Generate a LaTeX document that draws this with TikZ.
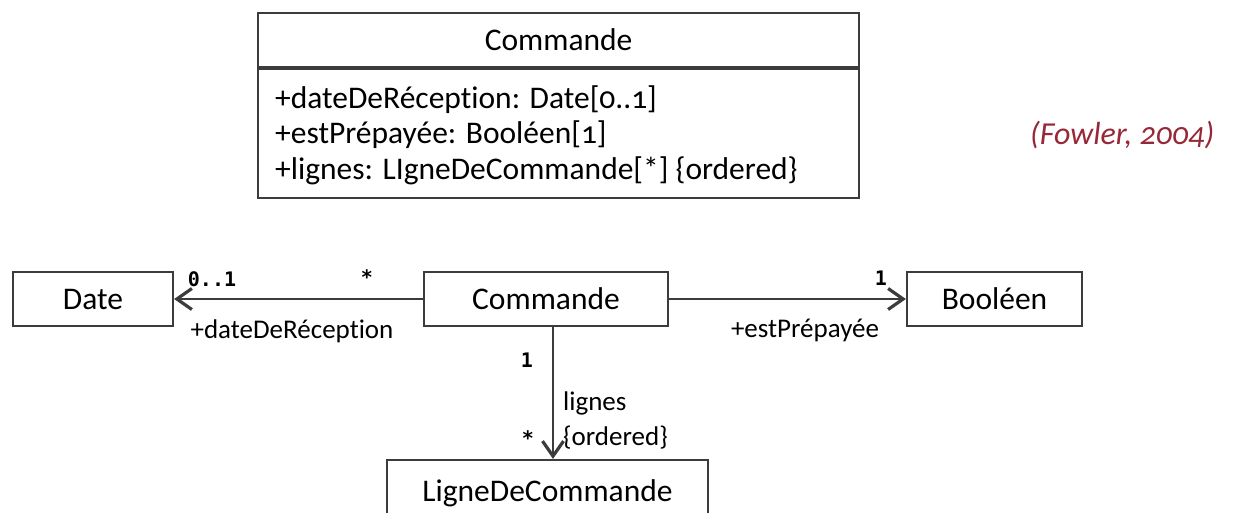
\documentclass[tikz,border=0pt]{standalone}
\usepackage{fontspec}
\setmainfont{Carlito}[Numbers=OldStyle,Ligatures=CommonOff]
\newfontfamily\multfont{DejaVu Sans Mono}
\usetikzlibrary{arrows.meta,calc}

\definecolor{umlline}{RGB}{60,60,60}
\definecolor{citered}{RGB}{150,40,55}

\begin{document}
\begin{tikzpicture}[x=1pt,y=-1pt,
  classbox/.style={draw=umlline,line width=2.2pt,inner sep=0pt,text height=20pt,text depth=0pt,font=\fontsize{31.5}{36}\selectfont},
  assoc/.style={draw=umlline,line width=2.2pt,-{Straight Barb[length=15pt,width=21pt,line width=3.2pt]}},
  rolename/.style={inner sep=0pt,anchor=base,font=\fontsize{27}{32}\selectfont},
  multi/.style={inner sep=0pt,anchor=base,font=\multfont\bfseries\fontsize{20}{24}\selectfont}]

\useasboundingbox (0,0) rectangle (1234,512);

% the class with its attributes
\node[classbox,anchor=north west,minimum width=601pt,minimum height=54pt] (cmdHead) at (257,12) {Commande};
\node[classbox,anchor=north,minimum width=601pt,minimum height=129pt] (cmdBody) at (cmdHead.south) {};

\def\attribs{
{+dateDeRéception: Date[0..1]},
{+estPrépayée: Booléen[1]},
{+lignes: LIgneDeCommande[*] \{ordered\}}
 }
\foreach \a [count=\ni] in \attribs
  \node[inner sep=0pt,anchor=base west,font=\fontsize{31.5}{36}\selectfont] (attr\ni) at (275,{72.5+35.5*\ni}) {\a};

\node[anchor=base west,inner sep=0pt,text=citered,font=\itshape\fontsize{32}{38}\selectfont] (cite) at (1030,144) {(Fowler, 2004)};

% the same class drawn with associations
\node[classbox,minimum width=160pt,minimum height=54pt] (date) at (93,299) {Date};
\node[classbox,minimum width=244pt,minimum height=54pt] (cmd) at (546,299) {Commande};
\node[classbox,minimum width=175pt,minimum height=54pt] (bool) at (994.5,299) {Booléen};
\node[classbox,minimum width=321pt,minimum height=62pt] (ligne) at (547.5,491) {LigneDeCommande};

\draw[assoc] (cmd.west) -- (date.east);
\draw[assoc] (cmd.east) -- (bool.west);
\draw[assoc] ([xshift=7pt]cmd.south) -- ([xshift=7pt]cmd.south |- ligne.north);

% ends of the associations
\node[multi] (mDate) at (212,286) {0..1};
\node[multi] (mCmdD) at (367,284) {*};
\node[rolename] (rDate) at (292,338) {+dateDeRéception};
\node[multi] (mBool) at (881,285) {1};
\node[rolename] (rBool) at (805,337) {+estPrépayée};
\node[multi] (mCmdL) at (527,367) {1};
\node[multi] (mLigne) at (528,445) {*};
\node[rolename,anchor=base west] (rLigne) at (563,410) {lignes};
\node[rolename,anchor=base west] (oLigne) at (563,445) {\{ordered\}};
\end{tikzpicture}
\end{document}
